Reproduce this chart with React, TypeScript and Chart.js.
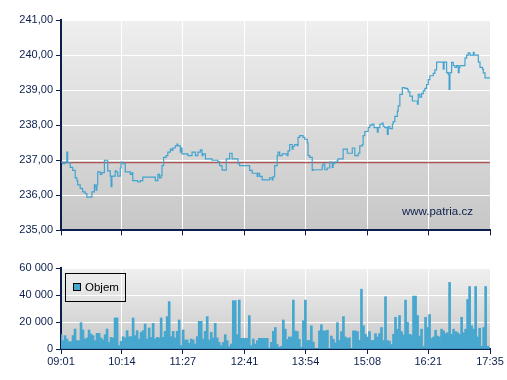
import React, { useEffect, useRef } from 'react';
import { Chart, registerables } from 'chart.js';

Chart.register(...registerables);

// ---------- DATA ----------
const OPEN_LABEL = '09:01';
const X_TICK_LABELS = ['09:01', '10:14', '11:27', '12:41', '13:54', '15:08', '16:21', '17:35'];

const PRICE_TICKS = [235, 236, 237, 238, 239, 240, 241];
const REFERENCE_PRICE = 236.93;

// minutes after the open (09:01)
const PRICE_MINUTES = [
  0, 2, 5, 7, 8, 11, 14, 17, 19, 20, 23, 25, 26, 29, 31, 35, 37, 40, 41, 42, 43, 44, 47, 49, 52, 54, 56, 59, 60, 61,
  65, 66, 68, 71, 72, 74, 77, 80, 83, 85, 86, 90, 92, 95, 98, 109, 113, 116, 118, 120, 121, 123, 126, 128, 131, 133,
  134, 137, 139, 140, 143, 144, 145, 149, 152, 157, 161, 164, 167, 169, 170, 173, 179, 181, 185, 188, 190, 193, 196,
  198, 202, 205, 211, 212, 214, 224, 226, 229, 232, 235, 236, 238, 241, 248, 250, 253, 254, 256, 259, 260, 262, 265,
  268, 271, 272, 274, 277, 278, 280, 283, 284, 286, 289, 290, 292, 295, 296, 298, 301, 302, 310, 313, 314, 316, 319,
  322, 325, 326, 328, 331, 332, 335, 338, 340, 343, 346, 349, 350, 352, 355, 356, 358, 361, 362, 364, 367, 368, 370,
  373, 375, 376, 379, 380, 382, 385, 386, 388, 391, 392, 394, 397, 398, 400, 403, 404, 406, 409, 412, 415, 416, 418,
  421, 424, 427, 428, 430, 432, 434, 436, 438, 440, 442, 444, 446, 448, 450, 456, 458, 459, 460, 462, 464, 465, 466,
  468, 470, 472, 474, 476, 477, 478, 482, 484, 486, 488, 490, 492, 494, 495, 498, 500, 502, 505, 506, 508, 514,
];
const PRICE_VALUES = [
  236.95, 236.9, 236.95, 237.23, 236.93, 236.8, 236.71, 236.5, 236.42, 236.3, 236.2, 236.19, 236.1, 236.05, 235.95,
  235.95, 236.1, 236.3, 236.25, 236.15, 236.3, 236.67, 236.6, 236.65, 237.0, 237.0, 236.7, 236.55, 236.25, 236.55,
  236.7, 236.67, 236.55, 236.78, 236.95, 236.9, 236.67, 236.67, 236.6, 236.65, 236.42, 236.42, 236.38, 236.42, 236.52,
  236.52, 236.42, 236.6, 236.5, 236.56, 236.85, 237.08, 237.13, 237.23, 237.32, 237.28, 237.35, 237.41, 237.46, 237.41,
  237.23, 237.35, 237.18, 237.18, 237.13, 237.23, 237.13, 237.23, 237.3, 237.13, 237.18, 237.04, 237.04, 237.0, 237.0,
  236.96, 236.85, 236.72, 236.72, 237.04, 237.2, 237.04, 237.04, 236.9, 236.85, 236.85, 236.71, 236.63, 236.63, 236.54,
  236.63, 236.54, 236.44, 236.44, 236.5, 236.44, 236.53, 236.85, 237.13, 237.23, 237.13, 237.18, 237.18, 237.13,
  237.27, 237.45, 237.32, 237.4, 237.45, 237.42, 237.65, 237.7, 237.7, 237.65, 237.6, 237.5, 237.13, 237.08, 236.71,
  236.73, 236.73, 236.85, 236.9, 236.73, 236.78, 236.95, 236.8, 236.9, 236.95, 237.0, 237.04, 237.04, 237.32, 237.32,
  237.2, 237.2, 237.35, 237.35, 237.13, 237.13, 237.2, 237.41, 237.45, 237.7, 237.82, 237.82, 237.93, 238.0, 238.03,
  237.93, 237.93, 237.8, 237.93, 238.03, 238.06, 237.97, 237.93, 237.74, 237.97, 237.9, 238.03, 238.1, 238.25, 238.4,
  238.55, 238.88, 239.07, 239.05, 239.02, 238.95, 238.83, 238.69, 238.69, 238.6, 238.88, 238.8, 238.9, 238.98, 239.05,
  239.16, 239.3, 239.41, 239.41, 239.48, 239.58, 239.8, 239.8, 239.6, 239.8, 239.8, 239.5, 239.45, 239.02, 239.5,
  239.79, 239.7, 239.65, 239.7, 239.5, 239.65, 239.7, 239.7, 239.91, 240.0, 240.06, 240.0, 240.0, 240.08, 240.0, 240.0,
  239.8, 239.65, 239.6, 239.49, 239.35, 239.35,
];

const VOLUME_TICKS = [0, 20000, 40000, 60000];
const VOLUME_INTERVAL_MIN = 2.4;
const VOLUMES = [
  10600, 6200, 9900, 7400, 5400, 5400, 9900, 14800, 6200, 6200,
  19500, 14100, 7400, 8200, 14100, 11100, 9900, 6200, 11600, 11600,
  8200, 6700, 10600, 14800, 4900, 8600, 8200, 23000, 23000, 2500,
  5700, 9100, 8200, 13600, 9100, 9100, 23000, 9900, 13600, 7400,
  12400, 13600, 18500, 7400, 15600, 8600, 19000, 7400, 8600, 8200,
  23000, 8600, 13100, 24000, 35100, 9100, 13100, 8200, 13100, 21500,
  2500, 14100, 6700, 6700, 4200, 7400, 6700, 3700, 9100, 20500,
  20500, 7400, 13100, 24000, 6700, 12400, 8200, 19000, 8200, 4900,
  2500, 4900, 10600, 6200, 1700, 3700, 35800, 35800, 10600, 36300,
  7900, 7900, 7900, 7900, 24700, 2500, 7400, 3700, 6200, 7900,
  7900, 7900, 7900, 7900, 700, 4900, 13100,
  15900, 3300, 1300, 2000, 21500, 14700, 7100, 8900, 8900, 36200,
  13400, 12900, 7100, 1300, 21000, 36200, 6300, 6300, 17200, 5100,
  300, 300, 13400, 18000, 13400, 13400, 13900, 300, 9600, 7100,
  4600, 19500, 6300, 12900, 24000, 8900, 7800, 8300, 300, 13400,
  13400, 12900, 6300, 44300, 17200, 10900, 8900, 12900, 6300, 6300,
  11400, 8900, 11400, 15900, 6300, 38700, 6300, 5800, 3300, 10900,
  23500, 14700, 24800, 12900, 10400, 36200, 19700, 10900, 10400, 39200,
  39200, 24800, 9600, 14700, 2000, 23500, 15900, 25500, 7800, 8900,
  13900, 9600, 8900, 14700, 13400, 11400, 12100, 49300, 10900, 14700,
  12900, 12100, 10900, 23500, 12100, 14700, 36700, 46300, 17200, 14700,
  46300, 8900, 15400, 2000, 15900, 46300, 2000, 1300,
];

const LEGEND_LABEL = 'Objem';
const WATERMARK = 'www.patria.cz';

// ---------- STYLE ----------
const NAVY = '#0c1f4c';
const LINE_BLUE = '#43a3d0';
const BAR_BLUE = '#47a7cf';
const REF_RED = '#a83232';
const FONT = { family: 'Arial, "Liberation Sans", sans-serif', size: 11 };

const toMin = (s: string) => {
  const [h, m] = s.split(':').map(Number);
  return h * 60 + m;
};
const OPEN = toMin(OPEN_LABEL);
const TICK_MINUTES = X_TICK_LABELS.map((l) => toMin(l) - OPEN);
const X_MAX = TICK_MINUTES[TICK_MINUTES.length - 1];

const bgPlugin = (top: string, bottom: string) => ({
  id: 'plotBg',
  beforeDraw(chart: any) {
    const { ctx, chartArea: a } = chart;
    const g = ctx.createLinearGradient(0, a.top, 0, a.bottom);
    g.addColorStop(0, top);
    g.addColorStop(1, bottom);
    ctx.save();
    ctx.fillStyle = g;
    ctx.fillRect(a.left, a.top, a.right - a.left, a.bottom - a.top);
    ctx.restore();
  },
});

const xScale = (showLabels: boolean, height: number) => ({
  type: 'linear',
  min: 0,
  max: X_MAX,
  offset: false,
  afterBuildTicks: (s: any) => {
    s.ticks = TICK_MINUTES.map((v) => ({ value: v }));
  },
  afterFit: (s: any) => {
    s.height = height;
  },
  grid: { color: '#ffffff', lineWidth: 1, tickColor: NAVY, tickLength: 5, tickWidth: 1, offset: false },
  border: { display: true, color: NAVY, width: 2 },
  ticks: {
    display: showLabels,
    autoSkip: false,
    maxRotation: 0,
    padding: 1,
    color: NAVY,
    font: FONT,
    callback: (_v: any, i: number) => X_TICK_LABELS[i],
  },
});

const yScale = (min: number, max: number, ticks: number[], fmt: (v: number) => string) => ({
  type: 'linear',
  min,
  max,
  afterBuildTicks: (s: any) => {
    s.ticks = ticks.map((v) => ({ value: v }));
  },
  afterFit: (s: any) => {
    s.width = 61;
  },
  grid: { color: '#ffffff', lineWidth: 1, tickColor: NAVY, tickLength: 5, tickWidth: 1 },
  border: { display: true, color: NAVY, width: 2 },
  ticks: { color: NAVY, font: FONT, padding: 3, callback: (v: any) => fmt(Number(v)) },
});

export default function App() {
  const priceRef = useRef<HTMLCanvasElement>(null);
  const volRef = useRef<HTMLCanvasElement>(null);

  useEffect(() => {
    const priceChart = new Chart(priceRef.current as HTMLCanvasElement, {
      type: 'line',
      data: {
        datasets: [
          {
            data: PRICE_MINUTES.map((t, i) => ({ x: t, y: PRICE_VALUES[i] })),
            borderColor: LINE_BLUE,
            borderWidth: 1.2,
            pointRadius: 0,
            stepped: true,
            fill: false,
          },
          {
            data: [
              { x: 0, y: REFERENCE_PRICE },
              { x: X_MAX, y: REFERENCE_PRICE },
            ],
            borderColor: REF_RED,
            borderWidth: 1,
            pointRadius: 0,
            fill: false,
          },
        ],
      },
      options: {
        responsive: false,
        animation: false,
        events: [],
        layout: { padding: { top: 20, right: 17, left: 0, bottom: 0 } },
        plugins: { legend: { display: false }, tooltip: { enabled: false } },
        scales: {
          x: xScale(false, 8) as any,
          y: yScale(235, 241, PRICE_TICKS, (v) => v.toFixed(2).replace('.', ',')) as any,
        },
      },
      plugins: [bgPlugin('#efefef', '#c7c7c7')],
    });

    const volChart = new Chart(volRef.current as HTMLCanvasElement, {
      type: 'bar',
      data: {
        datasets: [
          {
            data: VOLUMES.map((v, i) => ({ x: i * VOLUME_INTERVAL_MIN, y: v })),
            backgroundColor: BAR_BLUE,
            borderWidth: 0,
            barPercentage: 1,
            categoryPercentage: 1,
          },
        ],
      },
      options: {
        responsive: false,
        animation: false,
        events: [],
        layout: { padding: { top: 18, right: 17, left: 0, bottom: 0 } },
        plugins: { legend: { display: false }, tooltip: { enabled: false } },
        scales: {
          x: xScale(true, 31) as any,
          y: yScale(0, 60000, VOLUME_TICKS, (v) =>
            String(Math.round(v)).replace(/\B(?=(\d{3})+(?!\d))/g, ' ')
          ) as any,
        },
      },
      plugins: [bgPlugin('#f0f0f0', '#c9c9c9')],
    });

    return () => {
      priceChart.destroy();
      volChart.destroy();
    };
  }, []);

  return (
    <div style={{ position: 'absolute', left: 0, top: 0, width: 507, height: 380, background: '#fff', overflow: 'hidden' }}>
      <canvas ref={priceRef} width={507} height={240} style={{ position: 'absolute', left: 0, top: 0, width: 507, height: 240 }} />
      <canvas ref={volRef} width={507} height={130} style={{ position: 'absolute', left: 0, top: 250, width: 507, height: 130 }} />
      <div
        style={{
          position: 'absolute',
          left: 402,
          top: 205,
          font: '11.5px Arial, "Liberation Sans", sans-serif',
          color: NAVY,
          whiteSpace: 'nowrap',
        }}
      >
        {WATERMARK}
      </div>
      <div
        style={{
          position: 'absolute',
          left: 65,
          top: 273,
          width: 59,
          height: 27,
          border: '1px solid #000',
          boxSizing: 'content-box',
        }}
      >
        <div
          style={{
            position: 'absolute',
            left: 7,
            top: 9,
            width: 6,
            height: 6,
            background: BAR_BLUE,
            border: '1px solid #000',
          }}
        />
        <div
          style={{
            position: 'absolute',
            left: 19,
            top: 7,
            font: '11.5px Arial, "Liberation Sans", sans-serif',
            color: '#000',
            lineHeight: '13px',
            whiteSpace: 'nowrap',
          }}
        >
          {LEGEND_LABEL}
        </div>
      </div>
    </div>
  );
}
